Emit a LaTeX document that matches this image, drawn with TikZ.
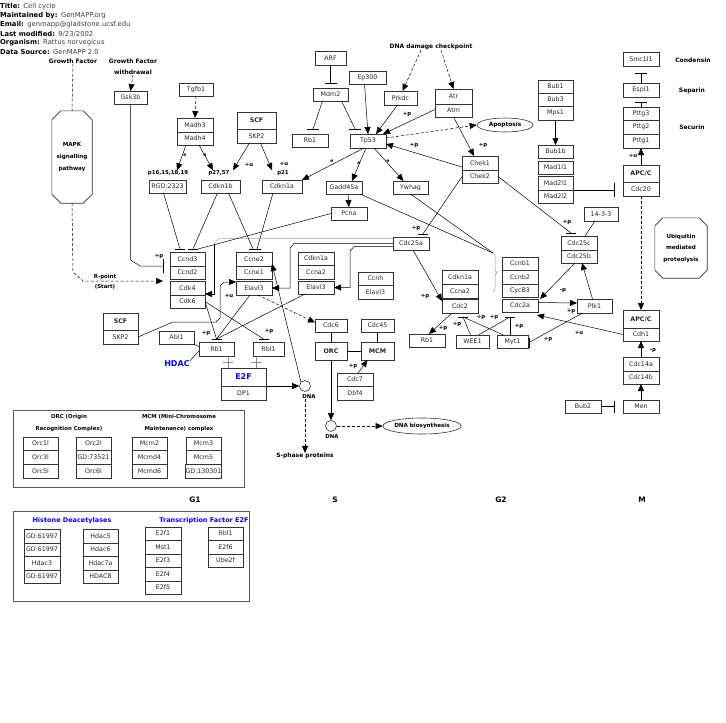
\documentclass[tikz,border=0pt]{standalone}
\usepackage{fontspec}
\setmainfont{DejaVu Sans}
\usetikzlibrary{arrows.meta,shapes.geometric,decorations.pathreplacing,calc}
\newcommand\Bx[6]{\pgfmathsetmacro\bw{#4-#2}\pgfmathsetmacro\bh{#5-#3}\node[bx,minimum width=\bw pt,minimum height=\bh pt] (#1) at ({(#2+#4)/2},{(#3+#5)/2}) {#6};}
\newcommand\HB[2][6]{\draw[tbar] ([xshift=-#1pt]#2) -- ([xshift=#1pt]#2);}
\newcommand\VB[2][6]{\draw[tbar] ([yshift=-#1pt]#2) -- ([yshift=#1pt]#2);}
\begin{document}
\begin{tikzpicture}[x=1pt,y=-1pt,
 bx/.style={draw=black!80,line width=0.6pt,inner sep=0pt,outer sep=0pt,font=\fontsize{6.3}{7}\selectfont,text=black!85},
 hd/.style={anchor=west,inner sep=0pt,font=\fontsize{6.8}{7}\selectfont},
 lab/.style={inner sep=0pt,font=\bfseries\fontsize{6}{7}\selectfont},
 sm/.style={inner sep=0pt,font=\bfseries\fontsize{5.4}{6}\selectfont},
 tiny/.style={inner sep=0pt,font=\bfseries\fontsize{4.5}{5}\selectfont},
 blu/.style={inner sep=0pt,text=blue,font=\bfseries\fontsize{6.5}{7}\selectfont},
 arr/.style={-{Triangle[length=7pt,width=6pt]},line width=0.5pt},
 ln/.style={line width=0.5pt},
 dsh/.style={line width=0.5pt,dash pattern=on 3pt off 2pt},
 tbar/.style={line width=0.8pt},
 oct/.style={draw=black!80,line width=0.6pt},
 frm/.style={draw=black!65,line width=0.7pt}]
\useasboundingbox (0,0) rectangle (726,723);
% header
\node[hd] (h1) at (0,7) {\textbf{Title:}\enspace\textcolor{black!75}{Cell cycle}};
\node[hd] (h2) at (0,16) {\textbf{Maintained by:}\enspace\textcolor{black!75}{GenMAPP.org}};
\node[hd] (h3) at (0,25) {\textbf{Email:}\enspace\textcolor{black!75}{genmapp@gladstone.ucsf.edu}};
\node[hd] (h4) at (0,34) {\textbf{Last modified:}\enspace\textcolor{black!75}{9/23/2002}};
\node[hd] (h5) at (0,43) {\textbf{Organism:}\enspace\textcolor{black!75}{Rattus norvegicus}};
\node[hd] (h6) at (0,52) {\textbf{Data Source:}\enspace\textcolor{black!75}{GenMAPP 2.0}};
% labels
\node[lab] (gf1) at (73,61) {Growth Factor};
\node[lab] (gf2) at (133,61) {Growth Factor};
\node[lab] (wd) at (133,72) {withdrawal};
\node[lab] (dnadc) at (431,47) {DNA damage checkpoint};
\node[lab] (lcond) at (693,60) {Condensin};
\node[lab] (lsep) at (692,91) {Separin};
\node[lab] (lsec) at (692,127) {Securin};
\node[sm] (rp1) at (105,277) {R-point};
\node[sm] (rp2) at (105,287) {(Start)};
\node[sm] (lp16) at (168,173) {p16,15,18,19};
\node[sm] (lp27) at (219,173) {p27,57};
\node[sm] (lp21) at (283,173) {p21};
% octagons
\node[lab,minimum width=40pt,minimum height=92pt,align=center,font=\bfseries\fontsize{5.6}{12}\selectfont] (mapk) at (72,157) {MAPK\\signalling\\pathway};
\draw[oct] ([xshift=9pt]mapk.north west) -- ([xshift=-9pt]mapk.north east) -- ([yshift=-9pt]mapk.north east) -- ([yshift=9pt]mapk.south east) -- ([xshift=-9pt]mapk.south east) -- ([xshift=9pt]mapk.south west) -- ([yshift=9pt]mapk.south west) -- ([yshift=-9pt]mapk.north west) -- cycle;
\node[lab,minimum width=52pt,minimum height=60pt,align=center,font=\bfseries\fontsize{5.6}{11.5}\selectfont] (ubq) at (681,248) {Ubiquitin\\mediated\\proteolysis};
\draw[oct] ([xshift=8pt]ubq.north west) -- ([xshift=-8pt]ubq.north east) -- ([yshift=-8pt]ubq.north east) -- ([yshift=8pt]ubq.south east) -- ([xshift=-8pt]ubq.south east) -- ([xshift=8pt]ubq.south west) -- ([yshift=8pt]ubq.south west) -- ([yshift=-8pt]ubq.north west) -- cycle;
% boxes
\Bx{gsk3b}{114}{91}{147}{104}{Gsk3b}
\Bx{tgfb1}{179}{83}{213}{96}{Tgfb1}
\Bx{madh3}{177}{118}{213}{132}{Madh3}
\Bx{madh4}{177}{132}{213}{145}{Madh4}
\Bx{scfa}{237}{112}{276}{129}{\textbf{SCF}}
\Bx{skp2a}{237}{129}{276}{143}{SKP2}
\Bx{arf}{315}{51}{346}{65}{ARF}
\Bx{mdm2}{313}{88}{348}{101}{Mdm2}
\Bx{rb1a}{292}{134}{328}{147}{Rb1}
\Bx{ep300}{349}{71}{386}{84}{Ep300}
\Bx{prkdc}{384}{91}{417}{105}{Prkdc}
\Bx{atr}{435}{89}{472}{104}{Atr}
\Bx{atm}{435}{104}{472}{117}{Atm}
\Bx{tp53}{350}{134}{386}{148}{Tp53}
\Bx{chek1}{462}{156}{498}{170}{Chek1}
\Bx{chek2}{462}{170}{498}{183}{Chek2}
\Bx{rgd}{149}{180}{186}{193}{RGD:2323}
\Bx{cdkn1b}{201}{180}{240}{193}{Cdkn1b}
\Bx{cdkn1a}{262}{180}{302}{193}{Cdkn1a}
\Bx{gadd45a}{326}{181}{362}{194}{Gadd45a}
\Bx{ywhag}{393}{181}{428}{194}{Ywhag}
\Bx{pcna}{331}{207}{367}{220}{Pcna}
\Bx{bub1}{538}{80}{573}{93}{Bub1}
\Bx{bub3}{538}{93}{573}{106}{Bub3}
\Bx{mps1}{538}{106}{573}{120}{Mps1}
\Bx{bub1b}{538}{145}{573}{158}{Bub1b}
\Bx{mad1l1}{538}{161}{573}{174}{Mad1l1}
\Bx{mad2l1}{538}{176}{573}{190}{Mad2l1}
\Bx{mad2l2}{538}{190}{573}{203}{Mad2l2}
\Bx{smc1l1}{623}{52}{659}{66}{Smc1l1}
\Bx{espl1}{623}{83}{659}{97}{Espl1}
\Bx{pttg3}{623}{107}{659}{120}{Pttg3}
\Bx{pttg2}{623}{120}{659}{134}{Pttg2}
\Bx{pttg1}{623}{134}{659}{148}{Pttg1}
\Bx{apc1}{623}{165}{659}{182}{\textbf{APC/C}}
\Bx{cdc20}{623}{182}{659}{196}{Cdc20}
\Bx{t1433}{584}{207}{618}{221}{14-3-3}
\Bx{cdc25c}{561}{236}{597}{250}{Cdc25c}
\Bx{cdc25b}{561}{250}{597}{263}{Cdc25b}
\Bx{ccnb1}{502}{257}{538}{270}{Ccnb1}
\Bx{ccnb2}{502}{270}{538}{284}{Ccnb2}
\Bx{cycb3}{502}{284}{538}{297}{CycB3}
\Bx{cdc2a}{502}{299}{538}{312}{Cdc2a}
\Bx{cdc25a}{393}{237}{429}{250}{Cdc25a}
\Bx{ccnd3}{170}{252}{205}{266}{Ccnd3}
\Bx{ccnd2}{170}{266}{205}{279}{Ccnd2}
\Bx{cdk4}{170}{281}{205}{295}{Cdk4}
\Bx{cdk6}{170}{295}{205}{308}{Cdk6}
\Bx{ccne2}{236}{252}{272}{266}{Ccne2}
\Bx{ccne1}{236}{266}{272}{279}{Ccne1}
\Bx{elavl3a}{236}{281}{272}{295}{Elavl3}
\Bx{cdkn1ab}{298}{252}{334}{265}{Cdkn1a}
\Bx{ccna2a}{298}{265}{334}{279}{Ccna2}
\Bx{elavl3b}{298}{281}{334}{294}{Elavl3}
\Bx{ccnh}{358}{272}{393}{285}{Ccnh}
\Bx{elavl3c}{358}{285}{393}{299}{Elavl3}
\Bx{scfb}{103}{313}{138}{330}{\textbf{SCF}}
\Bx{skp2b}{103}{330}{138}{344}{SKP2}
\Bx{abl1}{159}{331}{194}{344}{Abl1}
\Bx{rb1b}{199}{342}{234}{356}{Rb1}
\Bx{rbl1a}{253}{342}{284}{356}{Rbl1}
\Bx{e2f}{221}{368}{266}{386}{\textcolor{blue}{\bfseries\fontsize{8}{9}\selectfont E2F}}
\Bx{dp1}{221}{386}{266}{400}{DP1}
\Bx{cdc6}{315}{319}{347}{332}{Cdc6}
\Bx{orc}{315}{342}{347}{360}{\textbf{ORC}}
\Bx{cdc45}{361}{319}{394}{332}{Cdc45}
\Bx{mcm}{361}{342}{394}{360}{\textbf{MCM}}
\Bx{cdc7}{337}{373}{373}{386}{Cdc7}
\Bx{dbf4}{337}{386}{373}{400}{Dbf4}
\Bx{cdkn1ac}{442}{270}{478}{284}{Cdkn1a}
\Bx{ccna2b}{442}{284}{478}{298}{Ccna2}
\Bx{cdc2}{442}{299}{478}{313}{Cdc2}
\Bx{rb1c}{409}{334}{445}{347}{Rb1}
\Bx{wee1}{456}{335}{489}{348}{WEE1}
\Bx{myt1}{497}{335}{528}{348}{Myt1}
\Bx{plk1}{577}{299}{612}{313}{Plk1}
\Bx{apc2}{623}{310}{659}{328}{\textbf{APC/C}}
\Bx{cdh1}{623}{328}{659}{341}{Cdh1}
\Bx{cdc14a}{623}{357}{659}{371}{Cdc14a}
\Bx{cdc14b}{623}{371}{659}{384}{Cdc14b}
\Bx{men}{623}{400}{659}{413}{Men}
\Bx{bub2}{565}{400}{601}{413}{Bub2}
% ellipses and circles
\node[draw=black!80,line width=0.6pt,ellipse,minimum width=56pt,minimum height=14pt,inner sep=0pt,font=\bfseries\fontsize{5.8}{6}\selectfont] (apop) at (505,125) {Apoptosis};
\node[draw=black!80,line width=0.6pt,ellipse,minimum width=77pt,minimum height=16pt,inner sep=0pt,font=\bfseries\fontsize{5.6}{6}\selectfont] (bio) at (422,426) {DNA biosynthesis};
\node[draw=black!80,line width=0.6pt,circle,minimum size=11pt,inner sep=0pt] (dna1) at (305,386) {};
\node[draw=black!80,line width=0.6pt,circle,minimum size=11pt,inner sep=0pt] (dna2) at (331,426) {};
\node[sm] (dnal1) at (309,397) {DNA};
\node[sm] (dnal2) at (332,437) {DNA};
\node[lab] (sph) at (305,456) {S-phase proteins};
\node[inner sep=0pt,text=blue,font=\bfseries\fontsize{8}{9}\selectfont] (hdac) at (177,364) {HDAC};
% connectors: growth factor
\draw[dsh] (gf1.south) -- (mapk.north);
\draw[dsh,arr] (mapk.south) -- (73,272) -- (83,281) -- ([xshift=-7pt]cdk4.north west);
\draw[dsh,arr] (wd.south) -- (gsk3b.north);
\coordinate (gskb) at (163,266);
\draw[ln] (gsk3b.south) -- ++(0,156) -- (140,266) -- (gskb);
\VB[7]{gskb}
\draw[dsh,arr] (tgfb1.south) -- (madh3.north);
\draw[arr] ([xshift=-9pt]madh4.south) -- ([xshift=9pt]lp16.north);
\draw[arr] ([xshift=4pt]madh4.south) -- ([xshift=-6pt]lp27.north);
\draw[arr] ([xshift=-7pt]skp2a.south) -- ([xshift=14pt]lp27.north);
\draw[arr] ([xshift=4pt]skp2a.south) -- ([xshift=-11pt]lp21.north);
% p53 area
\coordinate (arfb) at ([yshift=5pt]mdm2.north);
\draw[ln] (arf.south) -- (arfb); \HB{arfb}
\coordinate (rb1ab) at ([xshift=3pt,yshift=5pt]rb1a.north);
\draw[ln] ([xshift=-8pt]mdm2.south) -- (rb1ab); \HB{rb1ab}
\coordinate (tpb) at ([xshift=-13pt,yshift=5pt]tp53.north);
\draw[ln] ([xshift=11pt]mdm2.south) -- (tpb); \HB{tpb}
\draw[arr] ([xshift=-3pt]ep300.south) -- (tp53.north);
\draw[arr] ([xshift=-3pt]prkdc.south) -- ([xshift=8pt]tp53.north);
\draw[arr] ([yshift=1pt]atm.west) -- ([xshift=-3pt]tp53.north east);
\draw[dsh,arr] ([xshift=-10pt]dnadc.south) -- ([xshift=2pt]prkdc.north);
\draw[dsh,arr] ([xshift=10pt]dnadc.south) -- (atr.north);
\draw[arr] (atm.south) -- ([xshift=-6pt]chek1.north);
\draw[arr] ([yshift=-4pt]chek1.west) -- ([yshift=-3pt]tp53.east);
\draw[dsh,arr] ([yshift=3pt]tp53.east) -- (apop.west);
\draw[arr] ([xshift=-4pt]tp53.south) -- (cdkn1a.north east);
\draw[arr] ([xshift=-2pt]tp53.south) -- ([xshift=8pt]gadd45a.north);
\draw[arr] ([xshift=6pt]tp53.south) -- ([xshift=-7pt]ywhag.north);
\draw[arr] ([xshift=4pt]gadd45a.south) -- (pcna.north);
% mitotic checkpoint
\draw[arr] (mps1.south) -- (bub1b.north);
\coordinate (madb) at (614,190);
\draw[ln] (mad2l1.south east) -- (madb); \VB[7]{madb}
\coordinate (smcb) at ([yshift=-7pt]smc1l1.south);
\draw[ln] (espl1.north) -- (smcb); \HB{smcb}
\coordinate (espb) at ([yshift=-5pt]espl1.south);
\draw[ln] (pttg3.north) -- (espb); \HB{espb}
\draw[arr] (apc1.north) -- (pttg1.south);
\draw[dsh,arr] (cdc20.south) -- (apc2.north);
% G2/M
\draw[ln] ([xshift=-6pt]t1433.south) -- ([xshift=6pt]cdc25c.north);
\coordinate (c25cb) at ([xshift=-8pt,yshift=3pt]cdc25c.north);
\draw[ln] (chek2.east) -- (c25cb); \HB[5]{c25cb}
\draw[arr] ([xshift=-4pt]cdc25b.south) -- ([xshift=2pt]cdc2a.north east);
\draw[arr] ([yshift=3pt]cdc2a.east) -- ([yshift=3pt]plk1.west);
\draw[arr] ([xshift=-2pt]plk1.north) -- ([xshift=3pt]cdc25b.south);
\coordinate (myb) at ([xshift=1pt,yshift=-1pt]myt1.east);
\draw[ln] ([xshift=-12pt]plk1.south) -- (myb); \VB[5]{myb}
\draw[arr] (cdh1.west) -- ([xshift=-1pt,yshift=-3pt]cdc2a.south east);
\draw[arr] (cdc14a.north) -- (cdh1.south);
\draw[arr] (men.north) -- (cdc14b.south);
\coordinate (menb) at ([xshift=-9pt]men.west);
\draw[ln] (bub2.east) -- (menb); \VB{menb}
% Cdc25a
\draw[ln,black!35] ([yshift=5pt]cdc25a.west) -- (219,238.5) -- (214,243.5);
\draw[arr] (214,243.5) -- (214,294) -- ([yshift=1pt]cdk4.south east);
\draw[arr] (cdc25a.west) -- (294,243.5) -- (290,248) -- (290,288) -- (elavl3a.east);
\draw[arr] ([yshift=-3pt]cdc25a.west) -- (354,246.5) -- (350,251) -- (350,287.5) -- (elavl3b.east);
\draw[arr] ([xshift=2pt]cdc25a.south) -- ([yshift=-2pt]cdc2.north west);
\coordinate (c25ab) at ([xshift=12pt,yshift=3pt]cdc25a.north);
\draw[ln] (chek2.west) -- (c25ab); \HB[5]{c25ab}
% bracket
\coordinate (brk) at (493,253);
\draw[ln] ([xshift=-2pt]gadd45a.south east) -- (brk);
\draw[ln] (ywhag.south) -- (brk);
\draw[black!40,line width=0.5pt,decorate,decoration={brace,amplitude=4pt}] (brk) -- (493,292);
% G1
\coordinate (cd3b1) at (180,249);
\coordinate (cd3b2) at (193,249);
\draw[ln] ([xshift=-4pt]rgd.south) -- (cd3b1);
\draw[ln] ([xshift=-3pt]cdkn1b.south) -- (cd3b2);
\draw[ln] (pcna.west) -- (198,249);
\HB[5]{cd3b1} \HB[5]{cd3b2}
\coordinate (ce2b) at (255,249);
\draw[ln] ([xshift=8pt]cdkn1b.south) -- ([xshift=-2pt]ce2b);
\draw[ln] ([xshift=-9pt]cdkn1a.south) -- ([xshift=2pt]ce2b);
\HB[6]{ce2b}
\draw[arr] (skp2b.east) -- (173,322) -- (216,322) -- (220,318) -- (220,286) -- (224,282) -- ([yshift=-1pt]elavl3a.north west);
\draw[arr] (dna1.north west) -- ([yshift=2pt]ccne2.south east);
\draw[arr] (e2f.south east) -- (dna1.west);
\draw[dsh,arr] (dnal1.south -| dna1) -- (sph.north -| dna1);
\coordinate (rbe1) at (228,362);
\coordinate (rbe2) at (256,362);
\draw[ln,black!45] (rb1b.south -| rbe1) -- (e2f.north -| rbe1);
\draw[ln,black!45] (rbl1a.south -| rbe2) -- (e2f.north -| rbe2);
\draw[black!45,line width=0.7pt] ([xshift=-5pt]rbe1) -- ([xshift=5pt]rbe1);
\draw[black!45,line width=0.7pt] ([xshift=-5pt]rbe2) -- ([xshift=5pt]rbe2);
\draw[ln] (abl1.south east) -- ([yshift=2pt]rb1b.west);
\draw[ln] (hdac.north east) -- ([yshift=-2pt]rb1b.west);
\coordinate (rbtop) at ([yshift=3pt]rb1b.north);
\coordinate (rbl1top) at ([xshift=-5pt,yshift=3pt]rbl1a.north);
\draw[ln] (cdk6.east) -- (rbtop);
\draw[ln] (cdk6.east) -- (rbl1top);
\draw[ln] ([xshift=-4pt]elavl3a.south) -- (rbtop);
\draw[ln] ([xshift=-11pt]elavl3b.south) -- (rbtop);
\HB[5]{rbtop} \HB[5]{rbl1top}
\draw[dsh,arr] ([xshift=4pt]elavl3a.south) -- ([yshift=3pt]cdc6.west);
\draw[ln] (cdc6.south) -- (orc.north);
\draw[ln] (cdc45.south) -- (mcm.north);
\draw[ln] (orc.east) -- (mcm.west);
\draw[arr] ([xshift=3pt]cdc7.north) -- ([xshift=-10pt]mcm.south);
\draw[arr] (orc.south) -- (dna2.north);
\draw[dsh,arr] (dna2.east) -- (bio.west);
\draw[arr] ([xshift=-8pt]cdc2.south) -- ([xshift=2pt]rb1c.north);
\coordinate (b1) at (463,317);
\coordinate (b2) at (510,317);
\draw[ln] ([xshift=-2pt]wee1.north) -- (b1);
\draw[ln] ([xshift=-9pt]myt1.north) -- (b1);
\draw[ln] ([xshift=6pt]wee1.north) -- (b2);
\draw[ln] (myt1.north -| b2) -- (b2);
\HB[5]{b1} \HB[5]{b2}
% small labels
\node[tiny] (e1) at (185,155) {e};
\node[tiny] (e2) at (205,155) {e};
\node[tiny] (e3) at (332,161) {e};
\node[tiny] (e4) at (359,163) {e};
\node[tiny] (e5) at (388,161) {e};
\node[sm] (u1) at (249,165) {+u};
\node[sm] (u2) at (284,164) {+u};
\node[sm] (p1) at (159,256) {+p};
\node[sm] (p2) at (407,114) {+p};
\node[sm] (p3) at (483,145) {+p};
\node[sm] (p4) at (414,145) {+p};
\node[sm] (p5) at (416,228) {+p};
\node[sm] (p6) at (567,222) {+p};
\node[sm] (p7) at (425,296) {+p};
\node[sm] (p8) at (443,328) {+p};
\node[sm] (p9) at (457,324) {+p};
\node[sm] (p10) at (481,317) {+p};
\node[sm] (p11) at (494,317) {+p};
\node[sm] (p12) at (519,326) {+p};
\node[sm] (p13) at (548,339) {+p};
\node[sm] (p14) at (571,311) {+p};
\node[sm] (u3) at (579,333) {+u};
\node[sm] (m1) at (563,291) {-p};
\node[sm] (m2) at (653,351) {-p};
\node[sm] (u4) at (633,156) {+u};
\node[sm] (p15) at (206,333) {+p};
\node[sm] (p16) at (269,331) {+p};
\node[sm] (u5) at (229,296) {+u};
\node[sm] (p17) at (353,366) {+p};
% frames
\draw[frm] (13,410) rectangle (244,487);
\node[sm] (fo1) at (69,417) {ORC (Origin};
\node[sm] (fo2) at (69,429) {Recognition Complex)};
\node[sm] (fm1) at (179,417) {MCM (Mini-Chromosome};
\node[sm] (fm2) at (179,429) {Maintenance) complex};
\Bx{orc1}{23}{437}{58}{450}{Orc1l}
\Bx{orc3}{23}{450}{58}{464}{Orc3l}
\Bx{orc5}{23}{464}{58}{478}{Orc5l}
\Bx{orc2}{76}{437}{111}{450}{Orc2l}
\Bx{orcr}{76}{450}{111}{464}{GD:73521}
\Bx{orc6}{76}{464}{111}{478}{Orc6l}
\Bx{mcm2}{132}{437}{167}{450}{Mcm2}
\Bx{mcmd4}{132}{450}{167}{464}{Mcmd4}
\Bx{mcmd6}{132}{464}{167}{478}{Mcmd6}
\Bx{mcm3}{186}{437}{221}{450}{Mcm3}
\Bx{mcm5}{186}{450}{221}{464}{Mcm5}
\Bx{mcmr}{186}{464}{221}{478}{GD:130301}
\draw[frm] (13,511) rectangle (249,601);
\node[blu] (lhd) at (72,521) {Histone Deacetylases};
\node[blu] (lte) at (204,521) {Transcription Factor E2F};
\Bx{hr1}{24}{529}{60}{543}{GD:61997}
\Bx{hr2}{24}{543}{60}{556}{GD:61997}
\Bx{hdac3}{24}{556}{60}{570}{Hdac3}
\Bx{hr3}{24}{570}{60}{583}{GD:61997}
\Bx{hdac5}{83}{529}{118}{543}{Hdac5}
\Bx{hdac6}{83}{543}{118}{556}{Hdac6}
\Bx{hdac7a}{83}{556}{118}{570}{Hdac7a}
\Bx{hdac8}{83}{570}{118}{583}{HDAC8}
\Bx{e2f1}{145}{527}{181}{540}{E2f1}
\Bx{mst1}{145}{540}{181}{554}{Mst1}
\Bx{e2f3}{145}{554}{181}{567}{E2f3}
\Bx{e2f4}{145}{567}{181}{581}{E2f4}
\Bx{e2f5}{145}{581}{181}{594}{E2f5}
\Bx{rbl1b}{208}{527}{243}{540}{Rbl1}
\Bx{e2f6}{208}{540}{243}{554}{E2f6}
\Bx{ube2f}{208}{554}{243}{567}{Ube2f}
% phases
\node[inner sep=0pt,font=\bfseries\fontsize{7.5}{8}\selectfont] (g1) at (195,500) {G1};
\node[inner sep=0pt,font=\bfseries\fontsize{7.5}{8}\selectfont] (ps) at (335,500) {S};
\node[inner sep=0pt,font=\bfseries\fontsize{7.5}{8}\selectfont] (g2) at (501,500) {G2};
\node[inner sep=0pt,font=\bfseries\fontsize{7.5}{8}\selectfont] (pm) at (642,500) {M};
\end{tikzpicture}
\end{document}
